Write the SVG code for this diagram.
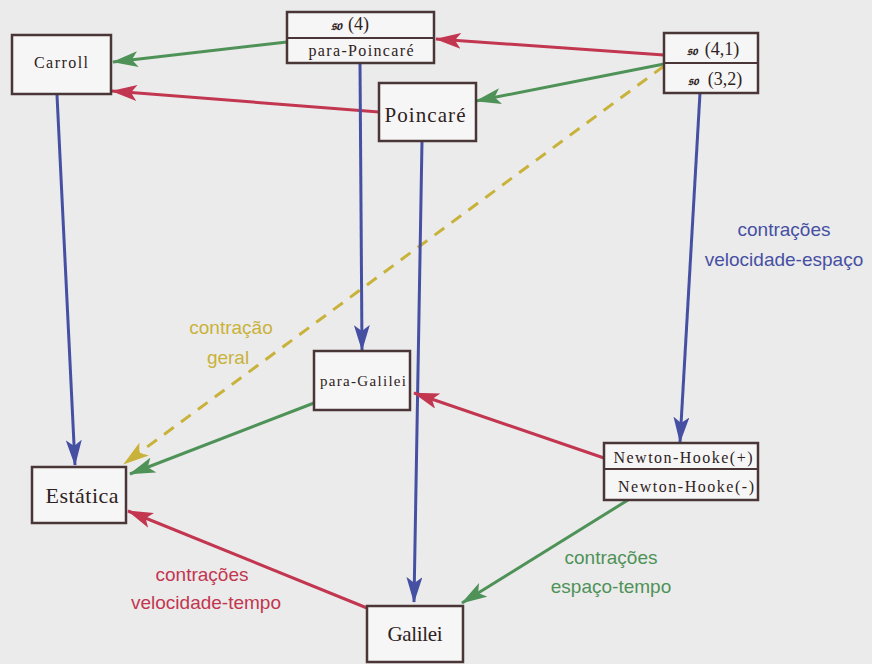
<svg xmlns="http://www.w3.org/2000/svg" width="872" height="664" viewBox="0 0 872 664">
<style>
.box{fill:#f6f6f6;stroke:#4a3636;stroke-width:2.5}
.div{stroke:#4a3636;stroke-width:2}
.bt{font-family:"Liberation Serif","DejaVu Serif",serif;fill:#2e2222;text-anchor:middle}
.math{font-family:"DejaVu Serif","DejaVu Sans",serif;font-style:italic;font-weight:bold}
.lb{font-family:"Liberation Sans","DejaVu Sans",sans-serif;font-size:19px;text-anchor:middle}
.c path{fill:none;stroke-width:3}
.r{stroke:#c23650}.g{stroke:#4f9257}.b{stroke:#4650a2}.y{stroke:#c9b23a;stroke-dasharray:12 9}
</style>
<defs>
<marker id="ar" viewBox="0 0 26 16" refX="25" refY="8" markerWidth="26" markerHeight="16" markerUnits="userSpaceOnUse" orient="auto"><path d="M0,0 L26,8 L0,16 L6,8 z" fill="#c23650"/></marker>
<marker id="ag" viewBox="0 0 26 16" refX="25" refY="8" markerWidth="26" markerHeight="16" markerUnits="userSpaceOnUse" orient="auto"><path d="M0,0 L26,8 L0,16 L6,8 z" fill="#4f9257"/></marker>
<marker id="ab" viewBox="0 0 26 16" refX="25" refY="8" markerWidth="26" markerHeight="16" markerUnits="userSpaceOnUse" orient="auto"><path d="M0,0 L26,8 L0,16 L6,8 z" fill="#4650a2"/></marker>
<marker id="ay" viewBox="0 0 26 16" refX="25" refY="8" markerWidth="26" markerHeight="16" markerUnits="userSpaceOnUse" orient="auto"><path d="M0,0 L26,8 L0,16 L6,8 z" fill="#c9b23a"/></marker>
</defs>
<rect width="872" height="664" fill="#ebebec"/>
<g id="connectors" class="c">
<path class="r" d="M664,55 L436,39" marker-end="url(#ar)"/>
<path class="g" d="M287,42 L113,62" marker-end="url(#ag)"/>
<path class="r" d="M379,112 L112,91" marker-end="url(#ar)"/>
<path class="g" d="M664,64 L476,101" marker-end="url(#ag)"/>
<path class="y" d="M664,66 L124,464" marker-end="url(#ay)"/>
<path class="b" d="M57,95 L75,465" marker-end="url(#ab)"/>
<path class="b" d="M360,63 L362,350" marker-end="url(#ab)"/>
<path class="b" d="M422,141 L414,602" marker-end="url(#ab)"/>
<path class="b" d="M700,93 L680,442" marker-end="url(#ab)"/>
<path class="r" d="M604,458 L414,393" marker-end="url(#ar)"/>
<path class="g" d="M314,403 L130,474" marker-end="url(#ag)"/>
<path class="r" d="M367,608 L128,511" marker-end="url(#ar)"/>
<path class="g" d="M628,500 L462,603" marker-end="url(#ag)"/>
</g>
<g id="carroll"><rect class="box" x="12" y="35" width="99" height="59"/><text class="bt" x="61" y="68" font-size="16" textLength="54">Carroll</text></g>
<g id="so4"><rect class="box" x="287" y="12" width="147" height="51"/><line class="div" x1="287" y1="38" x2="434" y2="38"/><text class="bt" x="350" y="30" font-size="18"><tspan class="math" font-size="14">𝔰𝔬</tspan><tspan dx="6">(4)</tspan></text><text class="bt" x="361" y="56" font-size="16" textLength="105">para-Poincaré</text></g>
<g id="ds"><rect class="box" x="664" y="33" width="94" height="60"/><line class="div" x1="664" y1="63" x2="758" y2="63"/><text class="bt" x="713" y="55" font-size="18"><tspan class="math" font-size="13">𝔰𝔬</tspan><tspan dx="8">(4,1)</tspan></text><text class="bt" x="715" y="85" font-size="18"><tspan class="math" font-size="13">𝔰𝔬</tspan><tspan dx="10">(3,2)</tspan></text></g>
<g id="poincare"><rect class="box" x="379" y="83" width="97" height="58"/><text class="bt" x="425" y="122" font-size="21" textLength="81">Poincaré</text></g>
<g id="paragalilei"><rect class="box" x="314" y="351" width="96" height="59"/><text class="bt" x="363" y="386" font-size="15" textLength="86">para-Galilei</text></g>
<g id="newtonhooke"><rect class="box" x="604" y="443" width="154" height="57"/><line class="div" x1="604" y1="469" x2="758" y2="469"/><text class="bt" x="683" y="463" font-size="16" textLength="139">Newton-Hooke(+)</text><text class="bt" x="686" y="492" font-size="16" textLength="136">Newton-Hooke(-)</text></g>
<g id="estatica"><rect class="box" x="32" y="467" width="94" height="56"/><text class="bt" x="82" y="503" font-size="22" textLength="73">Estática</text></g>
<g id="galilei"><rect class="box" x="367" y="606" width="96" height="56"/><text class="bt" x="415" y="641" font-size="21" textLength="55">Galilei</text></g>
<g id="labels">
<text class="lb" fill="#4650a2" x="784" y="236">contrações</text>
<text class="lb" fill="#4650a2" x="784" y="266">velocidade-espaço</text>
<text class="lb" fill="#c9b23a" x="231" y="334">contração</text>
<text class="lb" fill="#c9b23a" x="228" y="364">geral</text>
<text class="lb" fill="#c23650" x="202" y="581">contrações</text>
<text class="lb" fill="#c23650" x="206" y="609">velocidade-tempo</text>
<text class="lb" fill="#4f9257" x="611" y="564">contrações</text>
<text class="lb" fill="#4f9257" x="611" y="593">espaço-tempo</text>
</g>
</svg>
